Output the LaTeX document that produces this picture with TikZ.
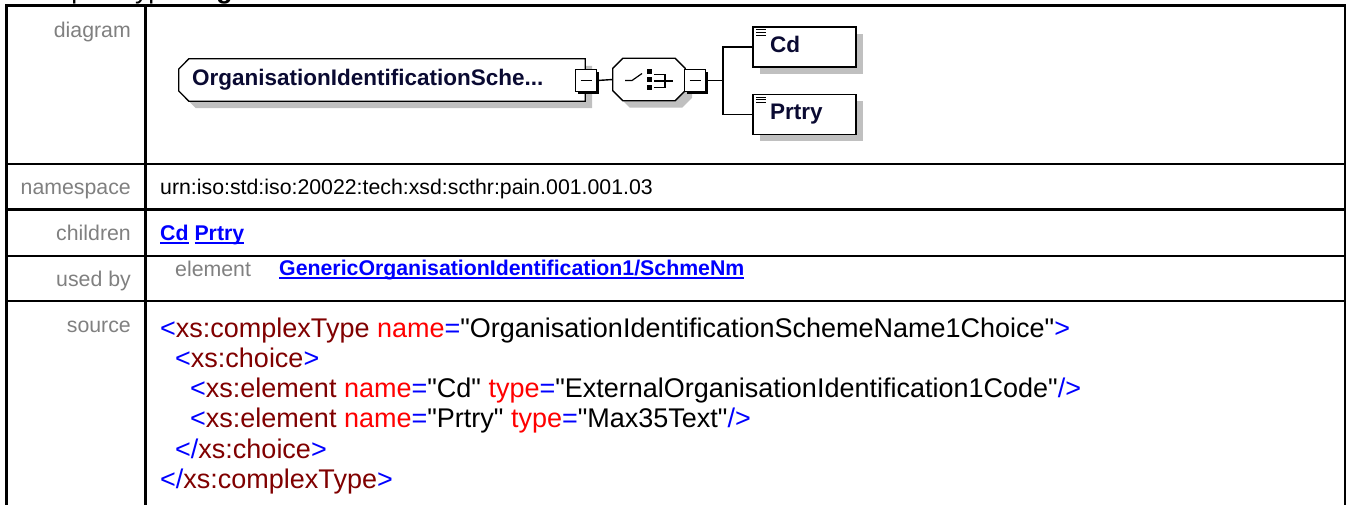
\documentclass[tikz,border=0pt]{standalone}
\usepackage{fontspec}
\setmainfont{Liberation Sans}[Ligatures=TeXOff]
\usetikzlibrary{positioning, shadows, backgrounds}
\definecolor{lblgray}{RGB}{128,128,128}
\definecolor{shadowgray}{RGB}{192,192,192}
\definecolor{boxtext}{RGB}{10,10,50}
\definecolor{xmlblue}{RGB}{0,0,255}
\definecolor{xmldark}{RGB}{128,0,0}
\definecolor{xmlred}{RGB}{255,0,0}
\newcommand\rowsize{\fontsize{21.3}{25}\selectfont}
\newcommand\codesize{\fontsize{27}{30}\selectfont}
\newcommand\boxsize{\fontsize{22.5}{25}\selectfont\bfseries}
\newcommand\linkul[1]{\setbox0=\hbox{#1}\rlap{\rule[-3.6pt]{\wd0}{1.5pt}}\box0\relax}
\newcommand\xmlsym[1]{\textcolor{xmlblue}{#1}}
\newcommand\xmlel[1]{\textcolor{xmldark}{#1}}
\newcommand\xmlat[1]{\textcolor{xmlred}{#1}}
\tikzset{
  tblline/.style={line width=2.6pt},
  rowlabel/.style={anchor=base east,inner sep=0pt,text=lblgray,font=\rowsize},
  rowtext/.style={anchor=base west,inner sep=0pt,font=\rowsize},
  rowlink/.style={rowtext,text=xmlblue,font=\rowsize\bfseries},
  codetext/.style={anchor=base west,inner sep=0pt,font=\codesize},
  boxshadow/.style={drop shadow={shadow xshift=7pt,shadow yshift=-7pt,fill=shadowgray,opacity=1}},
  outline/.style={draw,line width=1.3pt,fill=white},
  outshadow/.style={fill=shadowgray,transform canvas={shift={(7pt,-7pt)}}},
  complexbox/.style={rectangle,minimum width=406pt,minimum height=42pt,inner sep=0pt,text width=380pt,
    text height=15pt,text depth=4pt,align=left,text=boxtext,font=\boxsize},
  choicebox/.style={rectangle,minimum width=72pt,minimum height=42pt,inner sep=0pt},
  leafbox/.style={rectangle,draw,line width=1.3pt,fill=white,boxshadow,minimum width=103pt,minimum height=40pt,
    inner sep=0pt,text width=69pt,text height=15pt,text depth=4pt,align=left,text=boxtext,font=\boxsize},
  togglebox/.style={rectangle,draw,line width=1.4pt,fill=white,minimum width=21pt,minimum height=22pt,inner sep=0pt,
    drop shadow={shadow xshift=2.5pt,shadow yshift=-2.5pt,fill=black,opacity=1}},
  wire/.style={line width=1.4pt}
}
\begin{document}
\begin{tikzpicture}[x=1pt,y=-1pt]
\useasboundingbox (0,0) rectangle (1348,504);
\begin{pgfonlayer}{background}
\fill[white] (0,0) rectangle (1348,504);
\end{pgfonlayer}
% page heading, cut off at the top
\begin{scope}
\clip (0,0) rectangle (1348,504);
\node[anchor=base west,inner sep=0pt,font=\fontsize{26.6}{30}\selectfont] (title) at (21,-1.5)
  {complexType \textbf{OrganisationIdentificationSchemeName1Choice}};
\end{scope}
% table
\draw[tblline] (6.7,510) -- (6.7,5.5) -- (1345,5.5) -- (1345,510);
\draw[tblline] (145.7,5.5) -- (145.7,510);
\foreach \y in {164,209.3,256,301} \draw[tblline] (6.7,\y) -- (1345,\y);
\node[rowlabel] (lbldiag) at (131,37) {diagram};
\node[rowlabel] (lblns) at (131,194) {namespace};
\node[rowlabel] (lblchild) at (131,240) {children};
\node[rowlabel] (lblused) at (131,286) {used by};
\node[rowlabel] (lblsrc) at (131,332.5) {source};
\node[rowtext] (ns) at (160,194) {urn:iso:std:iso:20022:tech:xsd:scthr:pain.001.001.03};
\node[rowlink] (kids) at (160,240) {\linkul{Cd} \linkul{Prtry}};
\node[rowtext,text=lblgray] (usedkind) at (175,276) {element};
\node[rowlink] (usedref) at (279,275) {\linkul{GenericOrganisationIdentification1/SchmeNm}};
% source
\node[codetext] (src1) at (160,337.3) {\xmlsym{<}\xmlel{xs:complexType} \xmlat{name}\xmlsym{=}"OrganisationIdentificationSchemeName1Choice"\xmlsym{>}};
\node[codetext] (src2) at (175,367) {\xmlsym{<}\xmlel{xs:choice}\xmlsym{>}};
\node[codetext] (src3) at (190,397.5) {\xmlsym{<}\xmlel{xs:element} \xmlat{name}\xmlsym{=}"Cd" \xmlat{type}\xmlsym{=}"ExternalOrganisationIdentification1Code"\xmlsym{/>}};
\node[codetext] (src4) at (190,427.8) {\xmlsym{<}\xmlel{xs:element} \xmlat{name}\xmlsym{=}"Prtry" \xmlat{type}\xmlsym{=}"Max35Text"\xmlsym{/>}};
\node[codetext] (src5) at (175,458.2) {\xmlsym{</}\xmlel{xs:choice}\xmlsym{>}};
\node[codetext] (src6) at (160,488.3) {\xmlsym{</}\xmlel{xs:complexType}\xmlsym{>}};
% diagram
\node[complexbox] (cmplx) at (382,80) {OrganisationIdentificationSche...};
\node[choicebox] (ch) at (649,79.5) {};
\begin{pgfonlayer}{background}
\path[outshadow] ([xshift=10pt]cmplx.north west) -- (cmplx.north east) -- (cmplx.south east)
  -- ([xshift=10pt]cmplx.south west) -- ([yshift=-11pt]cmplx.west) -- ([yshift=11pt]cmplx.west) -- cycle;
\path[outline] ([xshift=10pt]cmplx.north west) -- (cmplx.north east) -- (cmplx.south east)
  -- ([xshift=10pt]cmplx.south west) -- ([yshift=-11pt]cmplx.west) -- ([yshift=11pt]cmplx.west) -- cycle;
\path[outshadow] ([xshift=10pt]ch.north west) -- ([xshift=-10pt]ch.north east) -- ([yshift=-10pt]ch.north east)
  -- ([yshift=10pt]ch.south east) -- ([xshift=-10pt]ch.south east) -- ([xshift=10pt]ch.south west)
  -- ([yshift=10pt]ch.south west) -- ([yshift=-10pt]ch.north west) -- cycle;
\path[outline] ([xshift=10pt]ch.north west) -- ([xshift=-10pt]ch.north east) -- ([yshift=-10pt]ch.north east)
  -- ([yshift=10pt]ch.south east) -- ([xshift=-10pt]ch.south east) -- ([xshift=10pt]ch.south west)
  -- ([yshift=10pt]ch.south west) -- ([yshift=-10pt]ch.north west) -- cycle;
\end{pgfonlayer}
\node[togglebox] (cmplxtog) at (586,80.5) {\rule{11pt}{1.5pt}};
\node[togglebox] (chtog) at (695,80.5) {\rule{11pt}{1.5pt}};
\begin{scope}[shift={(ch.center)},line width=1.2pt]
\draw (-24,1) -- (-17,1) -- (-7,-6);
\foreach \dy in {-8,0,8} \fill (-1.8,\dy-2.3) rectangle ++(4.6,4.6);
\draw (5,-5) -- (16,-5) -- (16,8) -- (5,8);
\draw (5,1.5) -- (24,1.5);
\end{scope}
\node[leafbox] (cd) at (804.5,47) {Cd};
\node[leafbox,below=26pt of cd] (prtry) {Prtry};
\foreach \n in {cd,prtry}
  \foreach \dy in {3.5,6.3,9}
    \draw[line width=1pt] ([shift={(4,\dy)}]\n.north west) -- ++(10,0);
\coordinate (fork) at (723,80.5);
\draw[wire] (cmplxtog.east) -- (ch.west);
\draw[wire] (chtog.east) -- (fork);
\draw[wire] (fork) |- (cd.west);
\draw[wire] (fork) |- (prtry.west);
\end{tikzpicture}
\end{document}
